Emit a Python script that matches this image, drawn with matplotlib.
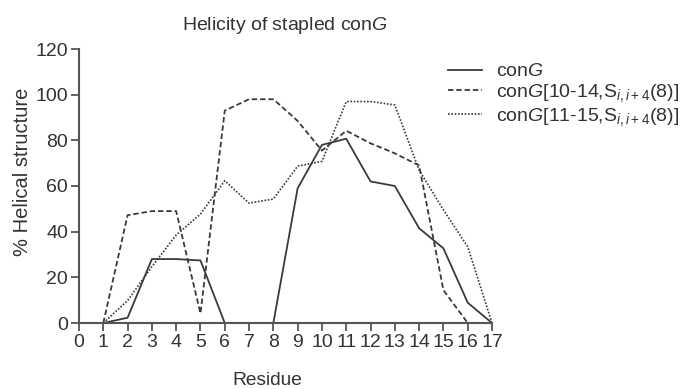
import matplotlib
matplotlib.use('Agg')
import matplotlib.pyplot as plt

plt.rcParams['font.family'] = ['Liberation Sans', 'DejaVu Sans']
plt.rcParams['mathtext.fontset'] = 'custom'
plt.rcParams['mathtext.rm'] = 'Liberation Sans'
plt.rcParams['mathtext.it'] = 'Liberation Sans:italic'

residues = list(range(1, 18))
cong = [0, 2.3, 28, 28, 27.4, 0, 0, 0, 59, 78, 80.7, 62, 60, 41.5, 32.7, 8.9, 0]
cong_10_14 = [0, 47.2, 49, 49, 4.2, 93, 98, 98, 88.5, 75.5, 84.2, 78.7, 74.3, 69, 14.4, 0, 0]
cong_11_15 = [0, 9.8, 24.7, 38.5, 47.7, 62.3, 52.5, 54.3, 68.7, 70.8, 97, 97, 95.5, 67, 49.5, 33.4, 0]

labels = [r'con$\it{G}$',
          r'con$\it{G}$[10-14,S$_{\it{i,i+4}}$(8)]',
          r'con$\it{G}$[11-15,S$_{\it{i,i+4}}$(8)]']

line_col = '#3a3a3a'
axis_col = '#555555'
text_col = '#333333'

fig = plt.figure(figsize=(6.83, 3.89), dpi=100)
ax = fig.add_axes([79 / 683, 1 - 323 / 389, (492 - 79) / 683, (323 - 49) / 389])

ax.plot(residues, cong, color=line_col, lw=1.3, label=labels[0])
ax.plot(residues, cong_10_14, color=line_col, lw=1.3, dashes=(3, 1.6), label=labels[1])
ax.plot(residues, cong_11_15, color=line_col, lw=1.2, dashes=(1, 1), label=labels[2])

ax.set_xlim(0, 17)
ax.set_ylim(0, 120)
ax.set_xticks(range(0, 18))
ax.set_yticks(range(0, 121, 20))
for s in ['top', 'right']:
    ax.spines[s].set_visible(False)
for s in ['left', 'bottom']:
    ax.spines[s].set_color(axis_col)
    ax.spines[s].set_linewidth(1.5)
ax.spines['left'].set_clip_on(False)
ax.tick_params(axis='both', colors=axis_col, width=1.3, length=6, direction='out',
               labelsize=14, labelcolor=text_col, pad=2)

ax.set_title(r'Helicity of stapled con$\it{G}$', fontsize=14, color=text_col, pad=14)
ax.set_ylabel('% Helical structure', fontsize=14.5, color=text_col)
ax.yaxis.set_label_coords(-0.114, 0.551)
ax.set_xlabel('Residue', fontsize=13.8, color=text_col)
ax.xaxis.set_label_coords(0.455, -0.178)

fig.legend(loc='upper left', bbox_to_anchor=(440 / 683, 1 - 55 / 389), frameon=False,
           fontsize=14, handlelength=1.75, handletextpad=0.75, labelspacing=0.1,
           labelcolor=text_col, borderaxespad=0)

fig.savefig('out.png', dpi=100)
